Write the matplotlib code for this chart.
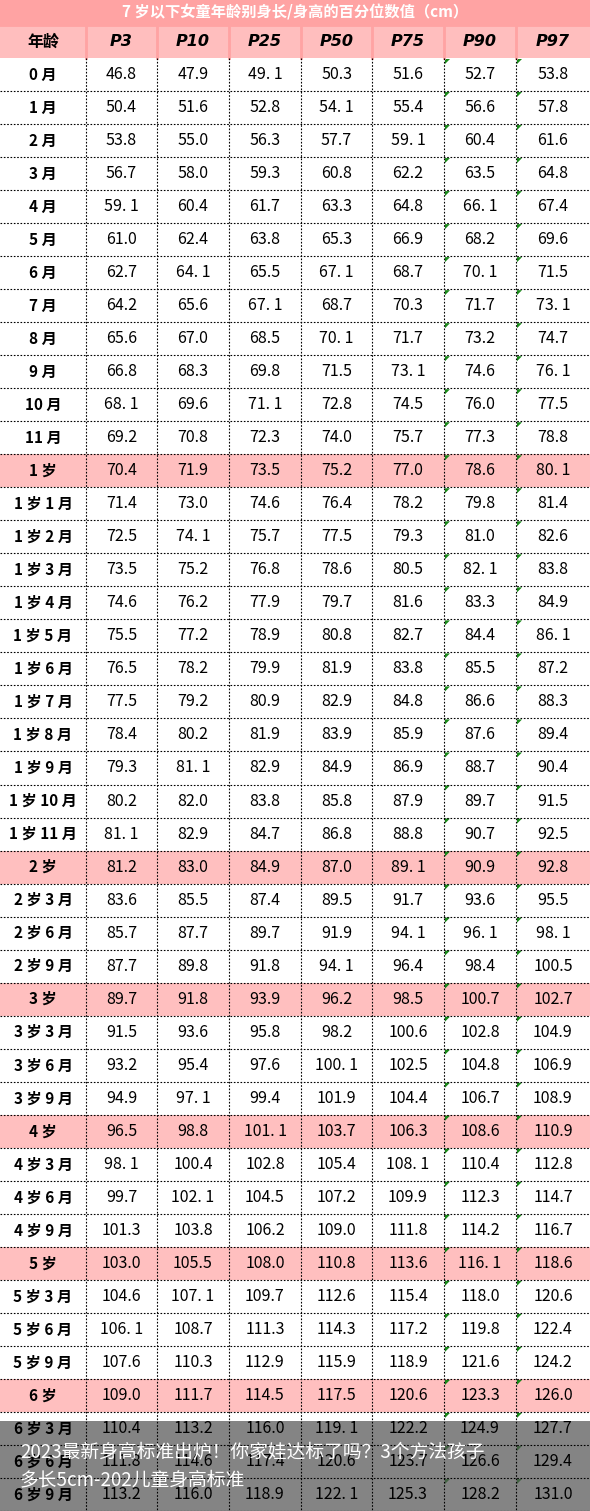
import matplotlib
matplotlib.use("Agg")
import matplotlib.pyplot as plt
from matplotlib.patches import Rectangle, Polygon

plt.rcParams['font.family'] = ['Noto Sans CJK SC', 'DejaVu Sans']

title = "7 岁以下女童年龄别身长/身高的百分位数值（cm）"
columns = ["P3", "P10", "P25", "P50", "P75", "P90", "P97"]
ages = ["0 月", "1 月", "2 月", "3 月", "4 月", "5 月", "6 月", "7 月", "8 月", "9 月", "10 月", "11 月",
        "1 岁", "1 岁 1 月", "1 岁 2 月", "1 岁 3 月", "1 岁 4 月", "1 岁 5 月", "1 岁 6 月", "1 岁 7 月",
        "1 岁 8 月", "1 岁 9 月", "1 岁 10 月", "1 岁 11 月", "2 岁", "2 岁 3 月", "2 岁 6 月", "2 岁 9 月",
        "3 岁", "3 岁 3 月", "3 岁 6 月", "3 岁 9 月", "4 岁", "4 岁 3 月", "4 岁 6 月", "4 岁 9 月",
        "5 岁", "5 岁 3 月", "5 岁 6 月", "5 岁 9 月", "6 岁", "6 岁 3 月", "6 岁 6 月", "6 岁 9 月"]
values = [
    [46.8, 47.9, 49.1, 50.3, 51.6, 52.7, 53.8],
    [50.4, 51.6, 52.8, 54.1, 55.4, 56.6, 57.8],
    [53.8, 55.0, 56.3, 57.7, 59.1, 60.4, 61.6],
    [56.7, 58.0, 59.3, 60.8, 62.2, 63.5, 64.8],
    [59.1, 60.4, 61.7, 63.3, 64.8, 66.1, 67.4],
    [61.0, 62.4, 63.8, 65.3, 66.9, 68.2, 69.6],
    [62.7, 64.1, 65.5, 67.1, 68.7, 70.1, 71.5],
    [64.2, 65.6, 67.1, 68.7, 70.3, 71.7, 73.1],
    [65.6, 67.0, 68.5, 70.1, 71.7, 73.2, 74.7],
    [66.8, 68.3, 69.8, 71.5, 73.1, 74.6, 76.1],
    [68.1, 69.6, 71.1, 72.8, 74.5, 76.0, 77.5],
    [69.2, 70.8, 72.3, 74.0, 75.7, 77.3, 78.8],
    [70.4, 71.9, 73.5, 75.2, 77.0, 78.6, 80.1],
    [71.4, 73.0, 74.6, 76.4, 78.2, 79.8, 81.4],
    [72.5, 74.1, 75.7, 77.5, 79.3, 81.0, 82.6],
    [73.5, 75.2, 76.8, 78.6, 80.5, 82.1, 83.8],
    [74.6, 76.2, 77.9, 79.7, 81.6, 83.3, 84.9],
    [75.5, 77.2, 78.9, 80.8, 82.7, 84.4, 86.1],
    [76.5, 78.2, 79.9, 81.9, 83.8, 85.5, 87.2],
    [77.5, 79.2, 80.9, 82.9, 84.8, 86.6, 88.3],
    [78.4, 80.2, 81.9, 83.9, 85.9, 87.6, 89.4],
    [79.3, 81.1, 82.9, 84.9, 86.9, 88.7, 90.4],
    [80.2, 82.0, 83.8, 85.8, 87.9, 89.7, 91.5],
    [81.1, 82.9, 84.7, 86.8, 88.8, 90.7, 92.5],
    [81.2, 83.0, 84.9, 87.0, 89.1, 90.9, 92.8],
    [83.6, 85.5, 87.4, 89.5, 91.7, 93.6, 95.5],
    [85.7, 87.7, 89.7, 91.9, 94.1, 96.1, 98.1],
    [87.7, 89.8, 91.8, 94.1, 96.4, 98.4, 100.5],
    [89.7, 91.8, 93.9, 96.2, 98.5, 100.7, 102.7],
    [91.5, 93.6, 95.8, 98.2, 100.6, 102.8, 104.9],
    [93.2, 95.4, 97.6, 100.1, 102.5, 104.8, 106.9],
    [94.9, 97.1, 99.4, 101.9, 104.4, 106.7, 108.9],
    [96.5, 98.8, 101.1, 103.7, 106.3, 108.6, 110.9],
    [98.1, 100.4, 102.8, 105.4, 108.1, 110.4, 112.8],
    [99.7, 102.1, 104.5, 107.2, 109.9, 112.3, 114.7],
    [101.3, 103.8, 106.2, 109.0, 111.8, 114.2, 116.7],
    [103.0, 105.5, 108.0, 110.8, 113.6, 116.1, 118.6],
    [104.6, 107.1, 109.7, 112.6, 115.4, 118.0, 120.6],
    [106.1, 108.7, 111.3, 114.3, 117.2, 119.8, 122.4],
    [107.6, 110.3, 112.9, 115.9, 118.9, 121.6, 124.2],
    [109.0, 111.7, 114.5, 117.5, 120.6, 123.3, 126.0],
    [110.4, 113.2, 116.0, 119.1, 122.2, 124.9, 127.7],
    [111.8, 114.6, 117.4, 120.6, 123.7, 126.6, 129.4],
    [113.2, 116.0, 118.9, 122.1, 125.3, 128.2, 131.0],
]
overlay_text = "2023最新身高标准出炉！你家娃达标了吗？3个方法孩子\n多长5cm-202儿童身高标准"

W, H = 590, 1511
fig = plt.figure(figsize=(W/100, H/100), dpi=100)
ax = fig.add_axes([0, 0, 1, 1])
ax.set_xlim(0, W); ax.set_ylim(H, 0); ax.axis('off')

xb = [0, 86, 157, 229, 301, 372, 444, 516, 590]
title_h, head_b = 25, 58
rh = (H - head_b) / len(ages)

ax.add_patch(Rectangle((0, 0), W, title_h, color='#FFA3A3', lw=0))
ax.text(W/2, title_h/2, title, ha='center', va='center', color='white', fontsize=11, fontweight='bold')
ax.add_patch(Rectangle((0, title_h), W, head_b-title_h, color='#FFBEBE', lw=0))
for x in xb[1:-1]:
    ax.plot([x, x], [title_h, head_b], color='#FFA3A3', lw=2)
ax.plot([0, W], [title_h, title_h], color='#FFA3A3', lw=2)
ax.text((xb[0]+xb[1])/2, (title_h+head_b)/2, "年龄", ha='center', va='center', fontsize=11.5, fontweight='bold')
for j, c in enumerate(columns):
    ax.text((xb[j+1]+xb[j+2])/2, (title_h+head_b)/2, c, ha='center', va='center', fontsize=11.5,
            fontweight='bold', style='italic', family='DejaVu Sans')

def fmt(v):
    s = f"{v:.1f}"
    return s.replace(".1", ". 1") if s.endswith(".1") else s

for i, (a, row) in enumerate(zip(ages, values)):
    y0 = head_b + i*rh
    if "月" not in a:
        ax.add_patch(Rectangle((0, y0), W, rh, color='#FFBFBF', lw=0))
    yc = y0 + rh/2
    ax.text((xb[0]+xb[1])/2, yc, a, ha='center', va='center', fontsize=11, fontweight='bold')
    for j, v in enumerate(row):
        ax.text((xb[j+1]+xb[j+2])/2, yc, fmt(v), ha='center', va='center', fontsize=11.5)
    for j in (6, 7):
        ax.add_patch(Polygon([[xb[j]+1, y0+1], [xb[j]+6, y0+1], [xb[j]+1, y0+6]], color='#1a8a1a', lw=0))
    ax.plot([0, W], [y0+rh, y0+rh], color='black', lw=0.8, ls=(0, (1.5, 1.5)))
for x in xb[1:-1]:
    ax.plot([x, x], [head_b, H], color='black', lw=0.8, ls=(0, (1.5, 1.5)))

ax.add_patch(Rectangle((0, 1421), W, H-1421, color='#555555', alpha=0.72, lw=0))
ax.text(20, 1466, overlay_text, ha='left', va='center', color='white', fontsize=13.5, linespacing=1.35)

fig.savefig("out.png", dpi=100)
